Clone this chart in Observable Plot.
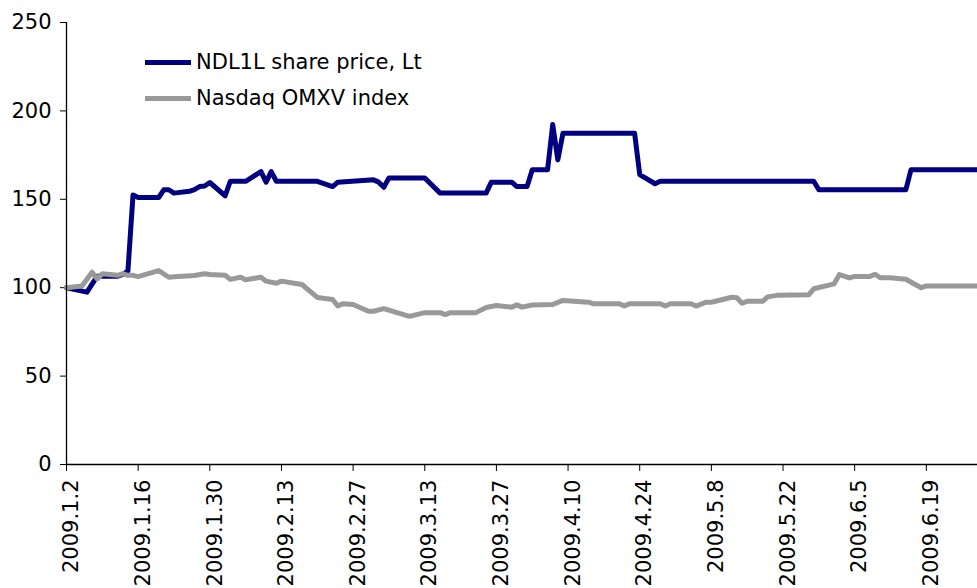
<!DOCTYPE html>
<html>
<head>
<meta charset="utf-8">
<script src="https://cdn.jsdelivr.net/npm/d3@7"></script>
<script src="https://cdn.jsdelivr.net/npm/@observablehq/plot@0.6"></script>
<style>
  html, body { margin: 0; padding: 0; background: #fff; }
  #wrap { position: relative; width: 977px; height: 588px; overflow: hidden; font-family: "DejaVu Sans", Verdana, sans-serif; }
  .leg { position: absolute; left: 145px; height: 24px; display: flex; align-items: center; font-size: 21px; color: #000; white-space: nowrap; }
  .leg span.sw { display: inline-block; width: 46px; height: 5px; margin-right: 5px; }
</style>
</head>
<body>
<div id="wrap"></div>
<script>
// ---- data ----
const seriesNames = ["NDL1L share price, Lt", "Nasdaq OMXV index"];

const ndlDates = ["2009-01-02","2009-01-06","2009-01-08","2009-01-12","2009-01-13","2009-01-14","2009-01-15","2009-01-16","2009-01-20","2009-01-21","2009-01-22","2009-01-23","2009-01-26","2009-01-27","2009-01-28","2009-01-29","2009-01-30","2009-02-02","2009-02-03","2009-02-06","2009-02-09","2009-02-10","2009-02-11","2009-02-12","2009-02-20","2009-02-23","2009-02-24","2009-03-03","2009-03-04","2009-03-05","2009-03-06","2009-03-13","2009-03-16","2009-03-25","2009-03-26","2009-03-30","2009-03-31","2009-04-02","2009-04-03","2009-04-06","2009-04-07","2009-04-08","2009-04-09","2009-04-23","2009-04-24","2009-04-27","2009-04-28","2009-05-28","2009-05-29","2009-06-15","2009-06-16","2009-06-29"];
const ndlValues = [100,97.5,106.5,106.5,107.5,109.5,152.5,151,151,155.4,155.4,153.5,154.5,155.5,157.2,157.5,159.5,152,160.2,160.2,165.7,159.7,165.7,160.2,160.2,157.2,159.7,161,159.7,156.8,162.1,162.1,153.5,153.5,159.7,159.7,157.2,157.2,166.7,166.7,192.3,172.3,187.4,187.4,164,158.8,160.2,160.2,155.4,155.4,166.7,166.7];

const omxDates = ["2009-01-02","2009-01-05","2009-01-07","2009-01-08","2009-01-09","2009-01-12","2009-01-13","2009-01-14","2009-01-15","2009-01-16","2009-01-20","2009-01-22","2009-01-23","2009-01-27","2009-01-29","2009-01-30","2009-02-02","2009-02-03","2009-02-05","2009-02-06","2009-02-09","2009-02-10","2009-02-12","2009-02-13","2009-02-17","2009-02-20","2009-02-23","2009-02-24","2009-02-25","2009-02-27","2009-03-02","2009-03-03","2009-03-05","2009-03-10","2009-03-13","2009-03-16","2009-03-17","2009-03-18","2009-03-23","2009-03-25","2009-03-27","2009-03-30","2009-03-31","2009-04-01","2009-04-03","2009-04-07","2009-04-09","2009-04-14","2009-04-15","2009-04-20","2009-04-21","2009-04-22","2009-04-28","2009-04-29","2009-04-30","2009-05-04","2009-05-05","2009-05-07","2009-05-08","2009-05-12","2009-05-13","2009-05-14","2009-05-15","2009-05-18","2009-05-19","2009-05-21","2009-05-27","2009-05-28","2009-06-01","2009-06-02","2009-06-04","2009-06-05","2009-06-08","2009-06-09","2009-06-10","2009-06-12","2009-06-15","2009-06-18","2009-06-19","2009-06-29"];
const omxValues = [100,101,108.8,105,107.9,107,107.9,107,107,106.3,109.7,105.9,106.2,106.9,107.9,107.5,107,104.7,105.9,104.5,105.9,103.7,102.5,103.7,101.8,94.5,93.3,89.7,90.9,90.5,86.7,86.7,88.2,83.8,85.9,85.9,84.8,85.9,85.9,88.8,89.9,89,90.3,89,90.2,90.5,92.8,91.8,90.9,90.9,89.6,90.9,90.9,89.6,90.9,90.9,89.6,91.8,91.8,94.6,94.3,91.2,92.3,92.3,94.8,95.8,96,99.4,102.2,107.4,105.5,106.4,106.4,107.6,105.6,105.6,104.8,100,101,101];

const xTickDates = ["2009-01-02","2009-01-16","2009-01-30","2009-02-13","2009-02-27","2009-03-13","2009-03-27","2009-04-10","2009-04-24","2009-05-08","2009-05-22","2009-06-05","2009-06-19"];
const xTickLabels = ["2009.1.2","2009.1.16","2009.1.30","2009.2.13","2009.2.27","2009.3.13","2009.3.27","2009.4.10","2009.4.24","2009.5.8","2009.5.22","2009.6.5","2009.6.19"];
const yTicks = [0, 50, 100, 150, 200, 250];
const xDomain = ["2009-01-02", "2009-06-29"];

// ---- build ----
const ndl = ndlDates.map((d, i) => ({date: new Date(d), value: ndlValues[i]}));
const omx = omxDates.map((d, i) => ({date: new Date(d), value: omxValues[i]}));
const tickDateObjs = xTickDates.map(d => new Date(d));
const colors = ["#000080", "#999999"];
const fmt = d => xTickLabels[tickDateObjs.findIndex(t => +t === +d)];

const chart = Plot.plot({
  width: 977,
  height: 588,
  marginLeft: 66,
  marginRight: 0,
  marginTop: 22,
  marginBottom: 124,
  style: {fontFamily: "'DejaVu Sans', Verdana, sans-serif", fontSize: "21px", color: "#000", background: "#fff", overflow: "visible"},
  x: {type: "utc", domain: xDomain.map(d => new Date(d))},
  y: {domain: [0, 250]},
  marks: [
    Plot.axisY({ticks: yTicks, tickSize: 6, tickPadding: 9, label: null}),
    Plot.axisX({ticks: tickDateObjs, tickSize: 7, tickFormat: () => "", label: null}),
    Plot.axisX({ticks: tickDateObjs, tickSize: 0, tickPadding: 15, tickRotate: -90, tickFormat: fmt, dx: 5, label: null}),
    Plot.line(ndl, {x: "date", y: "value", stroke: colors[0], strokeWidth: 5, strokeLinejoin: "round"}),
    Plot.line(omx, {x: "date", y: "value", stroke: colors[1], strokeWidth: 5, strokeLinejoin: "round"}),
    Plot.ruleX([new Date(xDomain[0])], {stroke: "#000", strokeWidth: 1.3}),
    Plot.ruleY([0], {stroke: "#000", strokeWidth: 1.3})
  ]
});

const wrap = document.getElementById("wrap");
wrap.appendChild(chart);

seriesNames.forEach((name, i) => {
  const div = document.createElement("div");
  div.className = "leg";
  div.style.top = (50 + i * 36) + "px";
  const sw = document.createElement("span");
  sw.className = "sw";
  sw.style.background = colors[i];
  div.appendChild(sw);
  div.appendChild(document.createTextNode(name));
  wrap.appendChild(div);
});
</script>
</body>
</html>
